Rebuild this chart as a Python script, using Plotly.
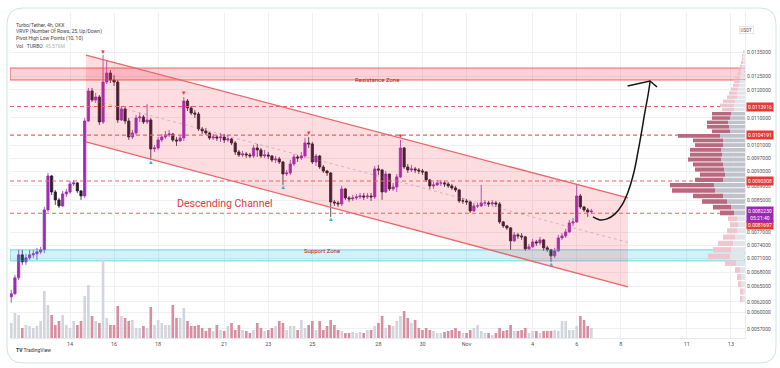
import numpy as np
import pandas as pd
import plotly.graph_objects as go

# ------------------------------------------------------------------ data
start_time = "2024-10-11 08:00"          # first 4h candle
first_open = 0.006297

close = [
    0.006356, 0.006680, 0.007176, 0.007022, 0.007110, 0.007176, 0.007199, 0.007244, 0.007289, 0.008255,
    0.009176, 0.008730, 0.008516, 0.008358, 0.008676, 0.008730, 0.008951, 0.008979, 0.008758, 0.008622,
    0.010890, 0.011957, 0.011626, 0.011735, 0.010856, 0.012296, 0.012645, 0.012373, 0.012296, 0.010924,
    0.011305, 0.010890, 0.010361, 0.010491, 0.010993, 0.011027, 0.010856, 0.010924, 0.009981, 0.010012,
    0.010265, 0.010361, 0.010426, 0.010458, 0.010265, 0.010233, 0.010329, 0.011590, 0.011340, 0.011165,
    0.011130, 0.010622, 0.010556, 0.010491, 0.010329, 0.010361, 0.010329, 0.010361, 0.010265, 0.010297,
    0.010170, 0.009888, 0.009796, 0.009827, 0.009796, 0.009766, 0.010012, 0.009950, 0.009766, 0.009796,
    0.009766, 0.009645, 0.009675, 0.009585, 0.009234, 0.009262, 0.009526, 0.009736, 0.009705, 0.009766,
    0.010170, 0.010138, 0.009585, 0.009766, 0.009437, 0.009320, 0.009262, 0.008463, 0.008437, 0.008410,
    0.008812, 0.008569, 0.008542, 0.008569, 0.008596, 0.008622, 0.008596, 0.008622, 0.008596, 0.009379,
    0.009349, 0.008730, 0.009234, 0.008812, 0.008867, 0.009148, 0.010012, 0.009437, 0.009349, 0.009379,
    0.009349, 0.009320, 0.009291, 0.009063, 0.008895, 0.008923, 0.008979, 0.008979, 0.008951, 0.008895,
    0.008840, 0.008785, 0.008489, 0.008489, 0.008463, 0.008229, 0.008358, 0.008358, 0.008437, 0.008437,
    0.008410, 0.008437, 0.008410, 0.007952, 0.007854, 0.007805, 0.007496, 0.007637, 0.007613, 0.007590,
    0.007312, 0.007357, 0.007472, 0.007449, 0.007519, 0.007335, 0.007289, 0.007154, 0.007266, 0.007566,
    0.007613, 0.007708, 0.007927, 0.007952, 0.008622, 0.008332, 0.008255, 0.008204, 0.008223]

high = [
    0.006435, 0.006743, 0.007289, 0.007289, 0.007199, 0.007289, 0.007289, 0.007335, 0.007357, 0.008332,
    0.009262, 0.009205, 0.008785, 0.008569, 0.008758, 0.008812, 0.009035, 0.009063, 0.009007, 0.008785,
    0.010993, 0.012069, 0.012069, 0.011882, 0.011808, 0.013374, 0.013167, 0.012764, 0.012567, 0.012373,
    0.011411, 0.011375, 0.010993, 0.010589, 0.011096, 0.011165, 0.011096, 0.011482, 0.010993, 0.010106,
    0.010361, 0.010458, 0.010556, 0.010589, 0.010491, 0.010361, 0.010426, 0.011735, 0.011662, 0.011411,
    0.011270, 0.011200, 0.010689, 0.010656, 0.010524, 0.010458, 0.010426, 0.010491, 0.010458, 0.010426,
    0.010329, 0.010233, 0.009950, 0.009919, 0.009888, 0.009858, 0.010106, 0.010138, 0.010012, 0.009950,
    0.009888, 0.009796, 0.009766, 0.009736, 0.009615, 0.009349, 0.009645, 0.009827, 0.009796, 0.009888,
    0.010329, 0.010361, 0.010201, 0.009827, 0.009796, 0.009496, 0.009349, 0.009291, 0.008516, 0.008489,
    0.008895, 0.008840, 0.008622, 0.008649, 0.008676, 0.008703, 0.008703, 0.008703, 0.008703, 0.009466,
    0.009496, 0.009379, 0.009320, 0.009205, 0.008979, 0.009234, 0.010265, 0.010044, 0.009526, 0.009496,
    0.009437, 0.009408, 0.009379, 0.009320, 0.009091, 0.009007, 0.009063, 0.009063, 0.009035, 0.009007,
    0.008951, 0.008895, 0.008812, 0.008569, 0.008542, 0.008489, 0.008437, 0.008437, 0.008923, 0.008516,
    0.008489, 0.008516, 0.008489, 0.008463, 0.007977, 0.007878, 0.007829, 0.007708, 0.007684, 0.007684,
    0.007613, 0.007426, 0.007543, 0.007519, 0.007590, 0.007543, 0.007380, 0.007312, 0.007335, 0.007637,
    0.007684, 0.007781, 0.008002, 0.008052, 0.008923, 0.008676, 0.008358, 0.008306, 0.008281]

low = [
    0.006180, 0.006336, 0.006639, 0.006956, 0.006956, 0.007065, 0.007110, 0.007065, 0.007199, 0.007221,
    0.008204, 0.008649, 0.008384, 0.008306, 0.008332, 0.008596, 0.008676, 0.008895, 0.008703, 0.008516,
    0.008569, 0.010856, 0.011554, 0.011518, 0.010755, 0.010789, 0.012220, 0.012258, 0.012144, 0.010823,
    0.010890, 0.010789, 0.010265, 0.010297, 0.010426, 0.010856, 0.010789, 0.010789, 0.009645, 0.009888,
    0.009950, 0.010201, 0.010297, 0.010361, 0.010201, 0.010075, 0.010201, 0.010233, 0.011235, 0.011096,
    0.010993, 0.010556, 0.010458, 0.010426, 0.010265, 0.010265, 0.010233, 0.010201, 0.010170, 0.010201,
    0.010106, 0.009796, 0.009736, 0.009736, 0.009705, 0.009705, 0.009705, 0.009736, 0.009705, 0.009705,
    0.009675, 0.009585, 0.009555, 0.009526, 0.008923, 0.009176, 0.009205, 0.009466, 0.009585, 0.009645,
    0.009705, 0.010012, 0.009526, 0.009466, 0.009379, 0.009262, 0.009176, 0.008077, 0.008358, 0.008332,
    0.008358, 0.008516, 0.008463, 0.008489, 0.008516, 0.008542, 0.008516, 0.008542, 0.008489, 0.008542,
    0.009205, 0.008516, 0.008703, 0.008758, 0.008758, 0.008730, 0.009119, 0.009379, 0.009262, 0.009291,
    0.009262, 0.009234, 0.009205, 0.009007, 0.008812, 0.008812, 0.008895, 0.008895, 0.008867, 0.008840,
    0.008785, 0.008730, 0.008437, 0.008410, 0.008384, 0.008178, 0.008204, 0.008306, 0.008332, 0.008358,
    0.008332, 0.008358, 0.008332, 0.007903, 0.007805, 0.007757, 0.007289, 0.007472, 0.007543, 0.007519,
    0.007266, 0.007289, 0.007335, 0.007380, 0.007403, 0.007266, 0.007244, 0.007022, 0.007110, 0.007244,
    0.007519, 0.007566, 0.007684, 0.007854, 0.007927, 0.008281, 0.008204, 0.008077, 0.008153]

# volume, relative units (millions)
volume = [
    15, 25, 23, 10, 13, 12, 10, 12, 17, 47,
    33, 23, 13, 17, 23, 13, 10, 17, 13, 17,
    42, 53, 22, 17, 15, 78, 20, 13, 13, 32,
    22, 20, 17, 18, 10, 10, 12, 10, 31, 13,
    18, 15, 13, 13, 33, 20, 20, 30, 17, 12,
    12, 13, 10, 7, 10, 7, 13, 8, 7, 12,
    15, 8, 13, 8, 7, 5, 8, 15, 10, 7,
    8, 10, 12, 17, 15, 8, 12, 12, 8, 18,
    10, 13, 17, 8, 17, 8, 12, 18, 13, 8,
    7, 5, 5, 6, 5, 6, 5, 8, 8, 12,
    15, 22, 10, 13, 12, 17, 22, 27, 20, 15,
    18, 10, 8, 10, 8, 7, 5, 5, 6, 7,
    8, 10, 7, 5, 5, 8, 10, 13, 7, 5,
    5, 3, 5, 10, 7, 8, 13, 7, 7, 8,
    10, 5, 7, 7, 5, 7, 7, 7, 8, 7,
    17, 17, 8, 8, 12, 22, 18, 12, 10]

pivot_high_idx = [25, 47, 81, 106]
pivot_low_idx = [38, 74, 87, 147]

level_prices = [0.0113916, 0.0104191, 0.0090308, 0.0081697]
last_price = 0.0082230
countdown = "05:21:40"

resistance_zone = [0.012373, 0.012843]
support_zone = [0.007043, 0.007289]

channel_time = ["2024-10-14 17:25", "2024-11-08 07:55"]
channel_upper = [0.013374, 0.008569]
channel_lower = [0.010201, 0.006496]
channel_mid = [0.011680, 0.007461]

arrow_time = ["2024-11-06 17:45", "2024-11-07 01:25", "2024-11-07 09:05", "2024-11-07 17:50",
              "2024-11-08 01:25", "2024-11-08 07:55", "2024-11-08 14:25", "2024-11-08 18:45",
              "2024-11-08 23:05", "2024-11-09 02:20", "2024-11-09 05:45", "2024-11-09 07:55"]
arrow_price = [0.008077, 0.008002, 0.008027, 0.008153, 0.008384, 0.008730, 0.009291, 0.009888,
               0.010589, 0.011200, 0.011808, 0.012296]
arrow_head_time = ["2024-11-08 07:30", "2024-11-09 07:55", "2024-11-09 15:35"]
arrow_head_price = [0.012144, 0.012335, 0.012106]

x_range = ["2024-10-11 06:38", "2024-11-13 15:22"]
price_ticks = [0.0135, 0.0125, 0.0120, 0.0110, 0.0101, 0.0097, 0.0093, 0.0089,
               0.0085, 0.0077, 0.0074, 0.0071, 0.0068, 0.0065, 0.0062, 0.0060, 0.0057]
date_ticks = ["2024-10-14", "2024-10-16", "2024-10-18", "2024-10-21", "2024-10-23", "2024-10-25",
              "2024-10-28", "2024-10-30", "2024-11-01", "2024-11-04", "2024-11-06", "2024-11-08",
              "2024-11-11", "2024-11-13"]
date_labels = ["14", "16", "18", "21", "23", "25", "28", "30", "Nov", "4", "6", "8", "11", "13"]

# visible-range volume profile (row centre prices, up / down volume)
profile_rows = [
    0.006254, 0.006402, 0.006550, 0.006698, 0.006846, 0.006994, 0.007142, 0.007290, 0.007438, 0.007586,
    0.007734, 0.007882, 0.008030, 0.008178, 0.008326, 0.008474, 0.008622, 0.008770, 0.008918, 0.009066,
    0.009214, 0.009362, 0.009510, 0.009658, 0.009806, 0.009954, 0.010102, 0.010250, 0.010398, 0.010546,
    0.010694, 0.010842, 0.010990, 0.011138, 0.011286, 0.011434, 0.011582, 0.011730, 0.011878, 0.012026,
    0.012174, 0.012322, 0.012470, 0.012618, 0.012766, 0.012914, 0.013062, 0.013210, 0.013358, 0.013506]
profile_up = [3, 2, 4, 4, 5, 9, 15, 14, 12, 10, 8, 7, 8, 11, 14, 18, 22, 30, 31, 22,
              20, 21, 22, 24, 23, 24, 22, 22, 25, 15, 16, 17, 15, 14, 11, 11, 10, 8, 8, 7,
              6, 5, 5, 4, 4, 3, 2, 2, 2, 1]
profile_down = [2, 3, 3, 4, 5, 11, 22, 18, 15, 12, 10, 8, 9, 14, 18, 25, 30, 43, 44, 28,
                25, 29, 30, 33, 32, 31, 28, 30, 42, 18, 22, 21, 18, 19, 12, 14, 12, 10, 8, 7,
                6, 6, 5, 4, 3, 2, 2, 1, 1, 1]
profile_row_step = 0.000148
value_area_rows = [13, 33]

# ------------------------------------------------------------------ geometry / style
W, H = 780, 368
ML, MR, MT, MB = 10, 35, 12, 30
PW, PH = W - ML - MR, H - MT - MB


def pxx(px):
    return (px - ML) / PW


def pxy(py):
    return (H - MB - py) / PH


FONT = "Roboto, Arial, sans-serif"
UP, DN = "#9c2cb6", "#2a1b2d"
RED = "#e53935"

times = pd.date_range(start_time, periods=len(close), freq="4h")
open_ = [first_open] + close[:-1]
hi = np.maximum.reduce([np.array(high), np.array(open_), np.array(close)])
lo = np.minimum.reduce([np.array(low), np.array(open_), np.array(close)])
is_up = np.array(close) >= np.array(open_)

y_lo_price = 0.0055387
y_hi_price = 0.015292
yr = [np.log10(y_lo_price), np.log10(y_hi_price)]

fig = go.Figure()

# zones
xr0, xr1 = pd.Timestamp(x_range[0]), pd.Timestamp(x_range[1])
fig.add_trace(go.Scatter(x=[xr0, xr1, xr1, xr0, xr0],
                         y=[resistance_zone[0]] * 2 + [resistance_zone[1]] * 2 + [resistance_zone[0]],
                         fill="toself", fillcolor="rgba(242,54,69,0.22)",
                         line=dict(color="rgba(229,57,53,0.75)", width=1), mode="lines", hoverinfo="skip"))
fig.add_trace(go.Scatter(x=[xr0, xr1, xr1, xr0, xr0],
                         y=[support_zone[0]] * 2 + [support_zone[1]] * 2 + [support_zone[0]],
                         fill="toself", fillcolor="rgba(0,188,212,0.18)",
                         line=dict(color="rgba(0,188,212,0.55)", width=1), mode="lines", hoverinfo="skip"))

# channel
ct = [pd.Timestamp(t) for t in channel_time]
fig.add_trace(go.Scatter(x=[ct[0], ct[1], ct[1], ct[0], ct[0]],
                         y=[channel_upper[0], channel_upper[1], channel_lower[1], channel_lower[0], channel_upper[0]],
                         fill="toself", fillcolor="rgba(242,54,69,0.17)", mode="lines",
                         line=dict(width=0, color="rgba(0,0,0,0)"), hoverinfo="skip"))
for ys in (channel_upper, channel_lower):
    fig.add_trace(go.Scatter(x=ct, y=ys, mode="lines", line=dict(color="#e8676b", width=1.3), hoverinfo="skip"))
fig.add_trace(go.Scatter(x=ct, y=channel_mid, mode="lines",
                         line=dict(color="rgba(150,120,130,0.5)", width=0.8, dash="dot"), hoverinfo="skip"))

# pivot levels
for p in level_prices:
    fig.add_trace(go.Scatter(x=[xr0, xr1], y=[p, p], mode="lines",
                             line=dict(color="#e8626a", width=1.1, dash="4px,3px"), hoverinfo="skip"))

# candles
fig.add_trace(go.Candlestick(
    x=times, open=open_, high=hi, low=lo, close=close,
    increasing=dict(line=dict(color=UP, width=0.8), fillcolor=UP),
    decreasing=dict(line=dict(color=DN, width=0.8), fillcolor=DN),
    whiskerwidth=0, hoverinfo="skip"))

# pivot markers
fig.add_trace(go.Scatter(x=[times[i] for i in pivot_high_idx], y=[hi[i] for i in pivot_high_idx],
                         mode="text", text=["▼"] * len(pivot_high_idx), textposition="top center",
                         textfont=dict(color="#f23645", size=6), hoverinfo="skip"))
fig.add_trace(go.Scatter(x=[times[i] for i in pivot_low_idx], y=[lo[i] for i in pivot_low_idx],
                         mode="text", text=["▲"] * len(pivot_low_idx), textposition="bottom center",
                         textfont=dict(color="#22bcd0", size=6), hoverinfo="skip"))

# projected path arrow
fig.add_trace(go.Scatter(x=pd.to_datetime(arrow_time), y=arrow_price, mode="lines",
                         line=dict(color="#151515", width=1.5, shape="spline", smoothing=1.0), hoverinfo="skip"))
fig.add_trace(go.Scatter(x=pd.to_datetime(arrow_head_time), y=arrow_head_price, mode="lines",
                         line=dict(color="#151515", width=1.5), hoverinfo="skip"))

# volume
fig.add_trace(go.Bar(x=times, y=volume, yaxis="y2",
                     marker=dict(color=np.where(is_up, "#d3d5dd", "#d68ea0").tolist(), line=dict(width=0)),
                     width=4 * 3600 * 1000 * 0.72, hoverinfo="skip"))

# volume profile
pc = np.array(profile_rows)
e_lo = np.log10(pc - profile_row_step / 2)
e_hi = np.log10(pc + profile_row_step / 2)
ymid = (e_lo + e_hi) / 2
wid = (e_hi - e_lo) * 0.82
in_va = [(value_area_rows[0] <= k <= value_area_rows[1]) for k in range(len(pc))]
up_cols = ["#bfc2cb" if v else "#e3e4ea" for v in in_va]
dn_cols = ["#b8687f" if v else "#eec6d0" for v in in_va]
fig.add_trace(go.Bar(x=profile_up, y=ymid, width=wid, base=0, orientation="h",
                     xaxis="x2", yaxis="y3", marker=dict(color=up_cols, line=dict(width=0)), hoverinfo="skip"))
fig.add_trace(go.Bar(x=profile_down, y=ymid, width=wid, base=profile_up, orientation="h",
                     xaxis="x2", yaxis="y3", marker=dict(color=dn_cols, line=dict(width=0)), hoverinfo="skip"))

# ------------------------------------------------------------------ annotations
ann = []
legend_lines = [
    "Turbo/Tether, 4h, OKX",
    "VRVP (Number Of Rows, 25, Up/Down)",
    "Pivot High Low Points (10, 10)",
    "Vol · TURBO  <span style='color:#b0b0b0'>45.576M</span>",
]
for k, t in enumerate(legend_lines):
    ann.append(dict(x=pxx(14), y=pxy(25 + 7 * k), xref="paper", yref="paper", text=t, showarrow=False,
                    xanchor="left", yanchor="middle", font=dict(size=5, color="#444", family=FONT)))

ann.append(dict(x=pxx(377), y=pxy(74), xref="paper", yref="paper", text="Resistance Zone", showarrow=False,
                font=dict(size=6, color="#b71c1c", family=FONT)))
ann.append(dict(x=pxx(322), y=pxy(256), xref="paper", yref="paper", text="Support Zone", showarrow=False,
                font=dict(size=6, color="#b71c1c", family=FONT)))
ann.append(dict(x=pxx(175), y=pxy(204), xref="paper", yref="paper", text="Descending Channel", showarrow=False,
                font=dict(size=10.5, color="#d9403e", family=FONT)))

ann.append(dict(x=pxx(754), y=pxy(26), xref="paper", yref="paper", text="USDT", showarrow=False,
                font=dict(size=4.5, color="#555", family=FONT), bordercolor="#d8d8d8", borderwidth=0.6, borderpad=1))
ann.append(dict(x=pxx(14), y=pxy(355), xref="paper", yref="paper", text="<b>TV</b> TradingView", showarrow=False,
                xanchor="left", font=dict(size=5, color="#333", family=FONT)))

label_shift = {0.0081697: -12}
for p in level_prices:
    ann.append(dict(x=1, y=np.log10(p), xref="paper", yref="y", xanchor="left", xshift=1,
                    yshift=label_shift.get(p, 0), text=f"{p:.7f}", showarrow=False,
                    bgcolor=RED, borderpad=1, font=dict(size=5, color="white", family=FONT)))
ann.append(dict(x=1, y=np.log10(last_price), xref="paper", yref="y", xanchor="left", xshift=1, yshift=-3,
                text=f"{last_price:.7f}<br>{countdown}", showarrow=False, bgcolor="#9c27b0", borderpad=1,
                font=dict(size=5, color="white", family=FONT)))

# card border
x0, x1 = pxx(7), pxx(776)
yt, yb = pxy(8), pxy(363)
rx, ry = 16 / PW, 16 / PH
card = (f"M {x0+rx},{yt} L {x1-rx},{yt} Q {x1},{yt} {x1},{yt-ry} L {x1},{yb+ry} Q {x1},{yb} {x1-rx},{yb} "
        f"L {x0+rx},{yb} Q {x0},{yb} {x0},{yb+ry} L {x0},{yt-ry} Q {x0},{yt} {x0+rx},{yt} Z")

fig.update_layout(
    width=W, height=H, margin=dict(l=ML, r=MR, t=MT, b=MB),
    paper_bgcolor="white", plot_bgcolor="white",
    showlegend=False, hovermode=False, barmode="overlay", boxgap=0.12,
    font=dict(family=FONT, size=5, color="#555"),
    xaxis=dict(type="date", range=x_range, tickvals=date_ticks, ticktext=date_labels,
               showgrid=True, gridcolor="#eef0f4", gridwidth=1, zeroline=False, ticks="",
               tickfont=dict(size=5.5, color="#555"), rangeslider=dict(visible=False),
               showline=True, linecolor="#e6e8ee", linewidth=1),
    yaxis=dict(type="log", range=yr, side="right", tickvals=price_ticks,
               ticktext=[f"{p:.7f}" for p in price_ticks], showgrid=True, gridcolor="#eef0f4",
               zeroline=False, ticks="", tickfont=dict(size=5, color="#555"),
               showline=True, linecolor="#eceef2", linewidth=1),
    yaxis2=dict(overlaying="y", range=[0, PH], visible=False, fixedrange=True),
    xaxis2=dict(overlaying="x", range=[PW, 0], visible=False, anchor="y3"),
    yaxis3=dict(overlaying="y", range=yr, visible=False, type="linear", anchor="x2"),
    annotations=ann,
    shapes=[dict(type="path", path=card, xref="paper", yref="paper",
                 line=dict(color="#d3e2e2", width=1), layer="above")],
)

fig.write_html("out.html", config={"displayModeBar": False},
               post_script="document.body.style.margin='0px';document.body.style.padding='0px';")
